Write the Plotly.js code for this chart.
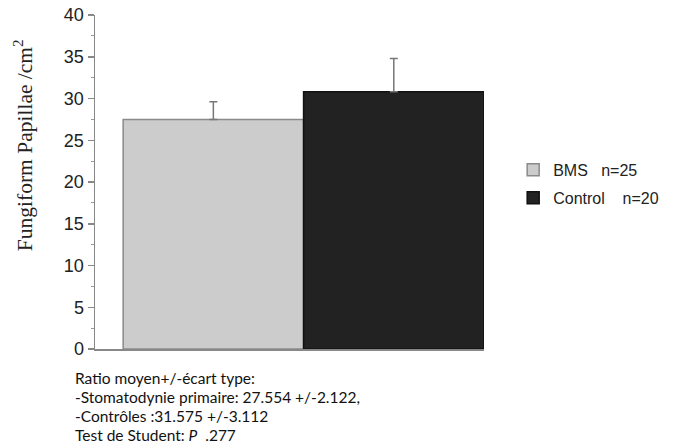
<!DOCTYPE html>
<html><head><meta charset="utf-8">
<script src="https://cdn.plot.ly/plotly-3.0.1.min.js"></script>
<style>html,body{margin:0;padding:0;background:#fff}</style>
</head><body>
<div id="chart" style="width:676px;height:445px"></div>
<script>
var groups = ["BMS", "Control"];
var legendNames = ["BMS   n=25", "Control    n=20"];
var means = [27.5, 30.8];
var sdUp = [2.1, 4.0];
var fills = ["#cccccc", "#222222"];
var outlines = ["#8a8a8a", "#111111"];
var yTicks = [0, 5, 10, 15, 20, 25, 30, 35, 40];
var noteLines = [
  "Ratio moyen+/-écart type:",
  "-Stomatodynie primaire: 27.554 +/-2.122,",
  "-Contrôles :31.575 +/-3.112",
  "Test de Student: <i>P</i>  .277"
];
var noteY = [-0.087, -0.144, -0.201, -0.258];

var traces = groups.map(function (g, i) {
  return {
    type: "bar",
    x: [i],
    y: [means[i]],
    width: 1,
    name: legendNames[i],
    legendgroup: g,
    marker: { color: fills[i], line: { color: outlines[i], width: 1.5 } },
    error_y: { type: "data", symmetric: false, array: [sdUp[i]], arrayminus: [0],
               color: "#777777", thickness: 1.5, width: 4 },
    hoverinfo: "skip"
  };
});

var annotations = noteLines.map(function (t, i) {
  return {
    xref: "paper", yref: "paper", x: -0.057, y: noteY[i], xanchor: "left", yanchor: "middle",
    align: "left", showarrow: false,
    font: { family: "Lato, Open Sans", size: 15.5, color: "#111" },
    text: t
  };
});
annotations.push({
  xref: "paper", yref: "paper", x: -0.182, y: 0.611, xanchor: "center", yanchor: "middle",
  textangle: -90, showarrow: false,
  font: { family: "Liberation Serif, Times New Roman", size: 21.5, color: "#222" },
  text: "Fungiform Papillae /cm<sup>2</sup>"
});

var layout = {
  width: 676, height: 445,
  margin: { l: 95, r: 192, t: 15, b: 96 },
  paper_bgcolor: "#fff", plot_bgcolor: "#fff",
  showlegend: true,
  legend: { x: 1.075, y: 0.587, xanchor: "left", yanchor: "top",
            font: { family: "Liberation Sans, Arial", size: 16, color: "#222" },
            tracegroupgap: 4, traceorder: "grouped" },
  xaxis: { range: [-0.656, 1.5], showticklabels: false, ticks: "", showgrid: false,
           zeroline: false, showline: true, linecolor: "#888", linewidth: 1.5, fixedrange: true },
  yaxis: { range: [0, 40], tickvals: yTicks, ticks: "outside", ticklen: 6, tickwidth: 1.5,
           tickcolor: "#888", showline: true, linecolor: "#888", linewidth: 1.5,
           showgrid: false, zeroline: false,
           minor: { dtick: 2.5, ticks: "outside", ticklen: 3, tickcolor: "#999", tickwidth: 1 },
           tickfont: { family: "Liberation Sans, Arial", size: 18, color: "#222" } },
  annotations: annotations
};

Plotly.newPlot("chart", traces, layout, { displayModeBar: false, staticPlot: true });
</script>
</body></html>
